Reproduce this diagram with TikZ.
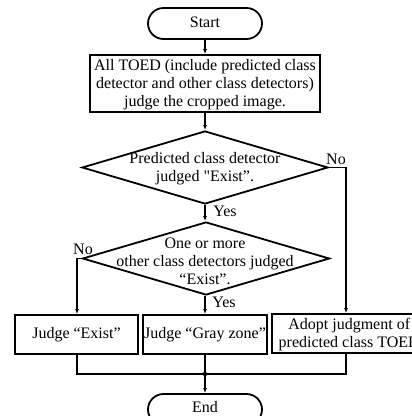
\documentclass[tikz,border=0pt]{standalone}
\usepackage{fontspec}
\setmainfont{Liberation Serif}[Ligatures=TeXOff]
\usetikzlibrary{arrows.meta,shapes.geometric,shapes.misc}
\begin{document}
\begin{tikzpicture}[x=1pt,y=-1pt,
  font=\fontsize{16}{18}\selectfont,
  shapeline/.style={draw=black,line width=1.8pt},
  terminal/.style={shapeline,rounded rectangle,minimum width=114pt,minimum height=31pt,inner sep=0pt},
  procbox/.style={shapeline,rectangle,inner sep=0pt,align=center},
  decision/.style={shapeline,diamond,inner sep=0pt,minimum width=246pt,minimum height=73pt},
  txt/.style={inner sep=0pt,align=center},
  flow/.style={line width=1.1pt,-{Latex[length=5pt,width=4pt]}},
  link/.style={line width=1.1pt},
  lbl/.style={inner sep=0pt}]
\useasboundingbox (0,0) rectangle (412,416);
\clip (0,0) rectangle (412,416);

% terminals
\node[terminal] (start) at (205,23.5) {};
\node[txt] at (205,22.5) {Start};
\node[terminal] (end) at (205,409.5) {};
\node[txt] at (205,407) {End};

% first process box
\node[procbox,minimum width=230pt,minimum height=57pt] (judgeall) at (205,83.5) {};
\node[txt] at (205,85) {All TOED (include predicted class\\ detector and other class detectors)\\ judge the cropped image.};

% decisions
\node[decision] (dpred) at (205,167.5) {};
\node[txt] at (205,169) {Predicted class detector\\judged "Exist”.};
\node[decision,minimum width=247pt] (dother) at (206,258.5) {};
\node[txt] at (205,261) {One or more\\other class detectors judged\\“Exist”.};

% result boxes
\node[procbox,minimum width=123pt,minimum height=39pt] (exist) at (76.5,334.5) {Judge “Exist”};
\node[procbox,minimum width=124pt,minimum height=39pt] (gray) at (205,334.5) {Judge “Gray zone”};
\node[procbox,minimum width=152pt,minimum height=39pt] (adopt) at (348,333.5) {};
\node[txt,anchor=west,align=center] at (278.5,335) {Adopt judgment of\\predicted class TOED};

% routing points
\coordinate (noR) at (346,167.5);
\coordinate (noL) at (77,258.5);
\coordinate (mA) at (77,374);
\coordinate (mC) at (346,374);
\coordinate (mj) at (205,374);

% connectors
\draw[flow] (start) -- (judgeall);
\draw[flow] (judgeall) -- (dpred.north);
\draw[flow] (dpred.south) -- (dother.north -| dpred.south);
\draw[flow] (dpred.east) -- (noR) -- (adopt.north -| noR);
\draw[flow] (dother.west) -- (noL) -- (exist.north -| noL);
\draw[flow] (dother.south -| gray.north) -- (gray.north);
\draw[link] (exist.south -| mA) -- (mA) -- (mC) -- (adopt.south -| mC);
\draw[link] (gray.south) -- (mj);
\draw[flow] (mj) -- (end.north);
\fill (mj) circle (2.2pt);

% branch labels
\node[lbl] at (336,159) {No};
\node[lbl] at (225,211) {Yes};
\node[lbl] at (83,249) {No};
\node[lbl] at (224,302) {Yes};
\end{tikzpicture}
\end{document}
